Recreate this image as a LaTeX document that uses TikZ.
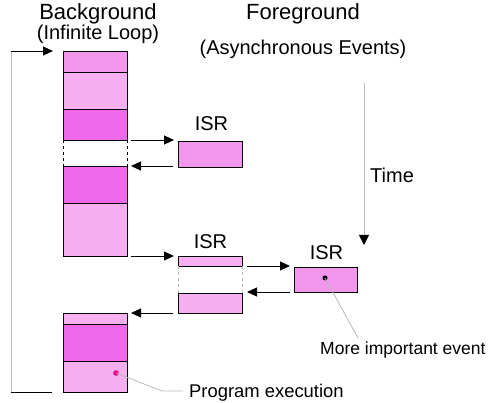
\documentclass[tikz,border=0pt]{standalone}
\usepackage{fontspec}
\setmainfont{Liberation Sans}
\usetikzlibrary{arrows.meta}
\definecolor{pklight}{RGB}{246,176,242}
\definecolor{pkmid}{RGB}{243,150,238}
\definecolor{pkdark}{RGB}{240,105,236}
\definecolor{leadgray}{RGB}{185,185,185}
\tikzset{
  box/.style={draw=black, line width=0.9pt, inner sep=0pt, anchor=north west, minimum width=64pt},
  conn/.style={draw=black, line width=0.9pt, -{Triangle[length=10pt,width=9pt]}},
  txt/.style={inner sep=0pt, anchor=base, font=\fontsize{20}{24}\selectfont},
  title/.style={inner sep=0pt, anchor=base, font=\fontsize{22}{26}\selectfont},
  small/.style={inner sep=0pt, anchor=base west, font=\fontsize{17.5}{21}\selectfont},
  gapline/.style={line width=0.9pt, dashed},
}
\begin{document}
\begin{tikzpicture}[x=1pt,y=-1pt]
\useasboundingbox (0,0) rectangle (496,403);
% titles
\node[title] (tbg) at (98,20) {Background};
\node[txt] (tbg2) at (98,40) {(Infinite Loop)};
\node[title] (tfg) at (303,20) {Foreground};
\node[txt] (tfg2) at (303,55) {(Asynchronous Events)};
% background blocks
\node[box, fill=pkmid, minimum height=21pt] (b1) at (63,51) {};
\node[box, fill=pklight, minimum height=37pt] (b2) at (63,72) {};
\node[box, fill=pkdark, minimum height=31pt] (b3) at (63,109) {};
\draw[gapline] (63,140) -- (63,166) (127,140) -- (127,166);
\node[box, fill=pkdark, minimum height=37pt] (b4) at (63,166) {};
\node[box, fill=pklight, minimum height=53pt] (b5) at (63,203) {};
\node[box, fill=pklight, minimum height=11pt] (b6) at (63,313) {};
\node[box, fill=pkdark, minimum height=37pt] (b7) at (63,324) {};
\node[box, fill=pklight, minimum height=31pt] (b8) at (63,361) {};
% ISR boxes
\node[box, fill=pkmid, minimum height=26pt] (i1) at (178,141) {};
\node[box, fill=pklight, minimum height=10pt] (i2) at (178,256) {};
\draw[gapline, draw=leadgray] (178,266) -- (178,293) (242,266) -- (242,293);
\node[box, fill=pklight, minimum height=20pt] (i2b) at (178,293) {};
\node[box, fill=pkmid, minimum width=63pt, minimum height=25pt] (i3) at (294,267) {};
% labels
\node[txt] (l1) at (211.5,131) {ISR};
\node[txt] (l2) at (210.5,249) {ISR};
\node[txt] (l3) at (326.5,260) {ISR};
\node[txt, anchor=base west] (ltime) at (370,183) {Time};
% loop
\coordinate (lt) at (11,51);
\coordinate (ltip) at (53,51);
\coordinate (lb) at (11,392);
\coordinate (lbe) at (52,392);
\draw[leadgray, line width=0.9pt] (lt) -- (lb);
\draw[conn] (lt) -- (ltip);
\draw[black, line width=0.9pt] (lb) -- (lbe);
% interrupt arrows
\coordinate (a1s) at (131,140); \coordinate (a1e) at (174,140);
\coordinate (a2s) at (173,166); \coordinate (a2e) at (131,166);
\coordinate (a3s) at (131,256); \coordinate (a3e) at (174,256);
\coordinate (a4s) at (173,313); \coordinate (a4e) at (131,313);
\coordinate (a5s) at (247,266); \coordinate (a5e) at (290,266);
\coordinate (a6s) at (290,292); \coordinate (a6e) at (247,292);
\draw[conn] (a1s) -- (a1e);
\draw[conn] (a2s) -- (a2e);
\draw[conn] (a3s) -- (a3e);
\draw[conn] (a4s) -- (a4e);
\draw[conn] (a5s) -- (a5e);
\draw[conn] (a6s) -- (a6e);
% time arrow
\coordinate (ts) at (364,83);
\coordinate (te) at (364,245);
\draw[leadgray, line width=0.9pt, -{Triangle[length=10pt,width=10pt,color=black]}] (ts) -- (te);
% more important event
\fill[black] (325,278) circle (2.5pt) coordinate (d3);
\coordinate (d3e) at (358,338);
\draw[leadgray, line width=0.8pt] (d3) -- (d3e);
\node[small] (lmore) at (320,355) {More important event};
% program execution
\fill[magenta!90!red] (116,373) circle (2.8pt) coordinate (dp);
\coordinate (dpm) at (162,391);
\coordinate (dpe) at (183,391);
\draw[leadgray, line width=0.8pt] (dp) -- (dpm) -- (dpe);
\node[small, font=\fontsize{18.4}{22}\selectfont] (lprog) at (189,398) {Program execution};
\end{tikzpicture}
\end{document}
